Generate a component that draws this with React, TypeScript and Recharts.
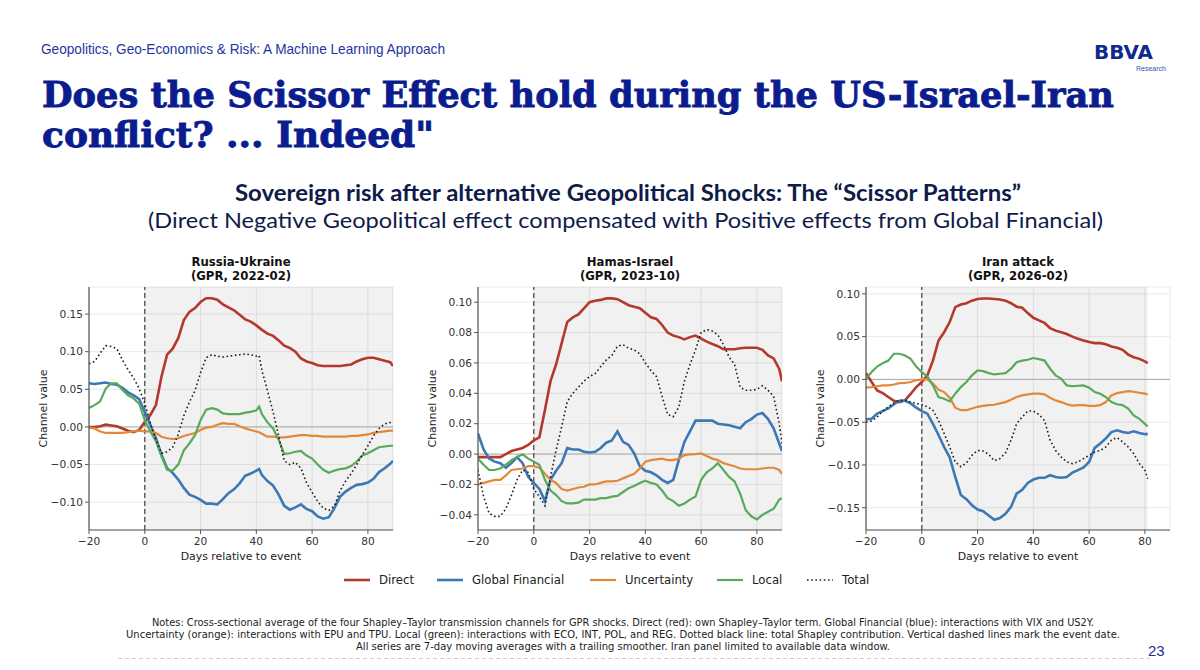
import React from 'react';
import { LineChart, Line, XAxis, YAxis, CartesianGrid, ReferenceArea, ReferenceLine } from 'recharts';

// ---------- categories (days relative to event) ----------
const DAYS_RU = [-20,-18,-16,-14,-12,-10,-8,-6,-4,-2,0,2,4,6,8,10,12,14,16,18,20,22,24,26,28,30,32,34,36,38,40,41,42,44,46,48,50,52,54,56,58,60,62,64,66,68,70,72,74,76,78,80,82,84,86,88,89];
const DAYS_HI = [-20,-18,-16,-14,-12,-10,-8,-6,-4,-2,0,2,4,6,8,10,12,14,16,18,20,22,24,26,28,30,32,34,36,38,40,42,44,46,48,50,52,54,56,58,60,62,64,66,68,70,72,74,76,78,80,82,84,86,88,89];
const DAYS_IR = [-20,-18,-16,-14,-12,-10,-8,-6,-4,-2,0,2,4,6,8,10,12,14,16,18,20,22,24,26,28,30,32,34,36,38,40,42,44,46,48,50,52,54,56,58,60,62,64,66,68,70,72,74,76,78,80,81];

// ---------- Russia-Ukraine ----------
const DIRECT_RU = [0.000,0.000,0.001,0.003,0.002,0.001,-0.002,-0.005,-0.007,-0.004,0.007,0.016,0.029,0.067,0.096,0.104,0.118,0.142,0.153,0.158,0.166,0.171,0.171,0.169,0.163,0.159,0.155,0.149,0.143,0.140,0.135,0.132,0.129,0.124,0.121,0.115,0.108,0.105,0.100,0.091,0.087,0.085,0.082,0.081,0.081,0.081,0.081,0.082,0.083,0.087,0.090,0.092,0.092,0.090,0.088,0.086,0.081];
const GLOBAL_RU = [0.058,0.057,0.058,0.059,0.057,0.056,0.052,0.046,0.042,0.037,0.020,0.003,-0.015,-0.037,-0.055,-0.061,-0.070,-0.081,-0.090,-0.093,-0.097,-0.102,-0.102,-0.103,-0.096,-0.088,-0.083,-0.075,-0.065,-0.062,-0.058,-0.056,-0.064,-0.072,-0.078,-0.090,-0.105,-0.110,-0.107,-0.103,-0.109,-0.112,-0.119,-0.122,-0.120,-0.108,-0.093,-0.086,-0.081,-0.077,-0.076,-0.074,-0.069,-0.060,-0.055,-0.049,-0.045];
const UNCERT_RU = [-0.001,-0.002,-0.006,-0.008,-0.008,-0.008,-0.008,-0.007,-0.006,-0.005,-0.006,-0.006,-0.008,-0.013,-0.015,-0.016,-0.015,-0.012,-0.010,-0.008,-0.004,-0.001,0.000,0.003,0.005,0.004,0.004,0.001,-0.002,-0.004,-0.006,-0.007,-0.009,-0.013,-0.013,-0.014,-0.014,-0.013,-0.012,-0.011,-0.011,-0.012,-0.012,-0.013,-0.013,-0.013,-0.013,-0.013,-0.012,-0.012,-0.011,-0.010,-0.008,-0.007,-0.006,-0.005,-0.005];
const LOCAL_RU = [0.025,0.029,0.034,0.051,0.058,0.058,0.049,0.042,0.038,0.031,0.009,-0.006,-0.019,-0.039,-0.057,-0.058,-0.050,-0.031,-0.022,-0.011,0.009,0.023,0.025,0.023,0.018,0.017,0.017,0.017,0.019,0.020,0.022,0.027,0.017,0.006,-0.002,-0.017,-0.036,-0.035,-0.033,-0.032,-0.038,-0.042,-0.050,-0.057,-0.061,-0.058,-0.056,-0.055,-0.052,-0.046,-0.038,-0.035,-0.031,-0.027,-0.026,-0.025,-0.025];
const TOTAL_RU = [0.084,0.087,0.098,0.108,0.107,0.104,0.089,0.076,0.065,0.051,0.031,0.005,-0.017,-0.035,-0.033,-0.027,-0.010,0.015,0.033,0.048,0.072,0.092,0.096,0.094,0.093,0.094,0.095,0.096,0.097,0.096,0.094,0.095,0.075,0.048,0.020,-0.012,-0.045,-0.050,-0.047,-0.055,-0.074,-0.087,-0.099,-0.108,-0.111,-0.105,-0.085,-0.072,-0.062,-0.050,-0.037,-0.025,-0.012,-0.002,0.004,0.006,0.007];

// ---------- Hamas-Israel ----------
const DIRECT_HI = [-0.002,-0.002,-0.002,-0.002,-0.002,0.000,0.002,0.003,0.004,0.006,0.009,0.011,0.029,0.048,0.059,0.073,0.087,0.090,0.092,0.096,0.100,0.101,0.1015,0.1025,0.1025,0.102,0.100,0.098,0.097,0.096,0.093,0.090,0.089,0.085,0.080,0.078,0.077,0.0755,0.077,0.078,0.076,0.074,0.0725,0.071,0.069,0.069,0.069,0.0697,0.070,0.070,0.070,0.0686,0.065,0.063,0.056,0.048];
const GLOBAL_HI = [0.0136,0.003,-0.003,-0.005,-0.006,-0.009,-0.006,-0.002,-0.006,-0.015,-0.019,-0.023,-0.031,-0.017,-0.011,-0.006,0.004,0.003,0.003,0.0015,0.001,0.0015,0.004,0.0075,0.009,0.015,0.008,0.006,0.0005,-0.008,-0.011,-0.012,-0.014,-0.017,-0.019,-0.017,-0.004,0.008,0.015,0.022,0.022,0.022,0.022,0.020,0.0195,0.019,0.018,0.017,0.021,0.023,0.026,0.027,0.023,0.017,0.007,0.002];
const UNCERT_HI = [-0.020,-0.019,-0.018,-0.017,-0.017,-0.014,-0.0105,-0.010,-0.0095,-0.008,-0.008,-0.009,-0.013,-0.017,-0.019,-0.023,-0.024,-0.023,-0.022,-0.0215,-0.020,-0.020,-0.019,-0.018,-0.018,-0.0176,-0.016,-0.0145,-0.013,-0.0095,-0.005,-0.004,-0.0035,-0.003,-0.004,-0.004,-0.003,-0.0007,-0.0002,0.000,0.0004,-0.0013,-0.003,-0.004,-0.006,-0.007,-0.008,-0.0095,-0.010,-0.010,-0.010,-0.0095,-0.009,-0.009,-0.0105,-0.013];
const LOCAL_HI = [-0.003,-0.007,-0.0105,-0.0105,-0.0095,-0.007,-0.004,-0.002,-0.0002,-0.003,-0.005,-0.007,-0.017,-0.024,-0.027,-0.031,-0.0325,-0.0325,-0.032,-0.030,-0.030,-0.030,-0.029,-0.029,-0.028,-0.0275,-0.025,-0.0225,-0.021,-0.019,-0.0176,-0.019,-0.020,-0.024,-0.029,-0.031,-0.034,-0.0325,-0.030,-0.028,-0.017,-0.012,-0.0095,-0.006,-0.0105,-0.015,-0.018,-0.026,-0.037,-0.041,-0.043,-0.040,-0.038,-0.036,-0.030,-0.029];
const TOTAL_HI = [-0.0105,-0.028,-0.039,-0.041,-0.041,-0.036,-0.027,-0.017,-0.0105,-0.012,-0.023,-0.028,-0.034,-0.015,0.0026,0.018,0.0345,0.040,0.044,0.048,0.051,0.053,0.0576,0.062,0.065,0.071,0.072,0.0697,0.0686,0.066,0.060,0.055,0.051,0.038,0.026,0.0246,0.031,0.048,0.059,0.0686,0.080,0.082,0.081,0.0785,0.072,0.064,0.059,0.044,0.042,0.042,0.0426,0.045,0.042,0.038,0.020,0.007];

// ---------- Iran attack ----------
const DIRECT_IR = [0.0074,-0.003,-0.013,-0.016,-0.0206,-0.025,-0.0265,-0.0245,-0.017,-0.009,-0.003,0.0047,0.022,0.0455,0.055,0.067,0.0845,0.0875,0.089,0.092,0.094,0.0945,0.0945,0.094,0.0934,0.092,0.089,0.085,0.0837,0.0775,0.072,0.069,0.066,0.060,0.057,0.055,0.053,0.050,0.0475,0.0455,0.0436,0.0424,0.0424,0.041,0.0385,0.037,0.0346,0.029,0.026,0.024,0.021,0.019];
const GLOBAL_IR = [-0.0467,-0.046,-0.040,-0.037,-0.034,-0.029,-0.025,-0.025,-0.028,-0.033,-0.037,-0.040,-0.052,-0.065,-0.079,-0.091,-0.114,-0.135,-0.140,-0.147,-0.152,-0.154,-0.159,-0.164,-0.162,-0.157,-0.149,-0.1335,-0.129,-0.121,-0.117,-0.115,-0.115,-0.112,-0.114,-0.115,-0.114,-0.109,-0.106,-0.103,-0.0965,-0.080,-0.075,-0.069,-0.0615,-0.0595,-0.0615,-0.0626,-0.0607,-0.0626,-0.064,-0.064];
const UNCERT_IR = [-0.0097,-0.009,-0.008,-0.007,-0.007,-0.006,-0.0043,-0.004,-0.003,-0.001,0.000,0.000,-0.005,-0.012,-0.0148,-0.0214,-0.033,-0.036,-0.036,-0.034,-0.032,-0.031,-0.030,-0.0296,-0.028,-0.0265,-0.0237,-0.0206,-0.0187,-0.0175,-0.0167,-0.0167,-0.0175,-0.0214,-0.0245,-0.0265,-0.029,-0.0307,-0.030,-0.030,-0.031,-0.031,-0.030,-0.0265,-0.0187,-0.016,-0.0148,-0.0136,-0.0144,-0.0156,-0.0167,-0.0175];
const LOCAL_IR = [0.0008,0.0086,0.015,0.019,0.022,0.030,0.030,0.028,0.024,0.015,0.0086,0.0035,-0.007,-0.0206,-0.0226,-0.0257,-0.0167,-0.009,-0.003,0.0047,0.0105,0.0097,0.0074,0.0058,0.0066,0.0074,0.0125,0.020,0.022,0.023,0.025,0.0237,0.022,0.0125,0.0047,0.0008,-0.007,-0.008,-0.0074,-0.007,-0.0097,-0.0148,-0.0167,-0.0206,-0.0265,-0.029,-0.030,-0.034,-0.042,-0.046,-0.052,-0.055];
const TOTAL_IR = [-0.050,-0.0486,-0.044,-0.037,-0.032,-0.0276,-0.0245,-0.0245,-0.0265,-0.028,-0.0296,-0.032,-0.036,-0.048,-0.063,-0.079,-0.0965,-0.102,-0.0977,-0.0887,-0.083,-0.0837,-0.0875,-0.095,-0.0926,-0.086,-0.071,-0.0518,-0.044,-0.037,-0.037,-0.041,-0.048,-0.071,-0.083,-0.0907,-0.0965,-0.0984,-0.0965,-0.0926,-0.0887,-0.085,-0.083,-0.079,-0.071,-0.068,-0.073,-0.079,-0.0868,-0.0984,-0.106,-0.116];

// ---------- tick labels ----------
const X_TICKS = [-20, 0, 20, 40, 60, 80];
const Y_TICKS_RU = [-0.1, -0.05, 0, 0.05, 0.1, 0.15];
const Y_TICKS_HI = [-0.04, -0.02, 0, 0.02, 0.04, 0.06, 0.08, 0.1];
const Y_TICKS_IR = [-0.15, -0.1, -0.05, 0, 0.05, 0.1];

const SERIES = [
  { key: 'direct', name: 'Direct', color: '#b3392b', width: 2.6, dash: undefined as string | undefined },
  { key: 'global', name: 'Global Financial', color: '#3b78b4', width: 2.6, dash: undefined },
  { key: 'uncert', name: 'Uncertainty', color: '#e3883a', width: 2.2, dash: undefined },
  { key: 'local', name: 'Local', color: '#58a95c', width: 2.2, dash: undefined },
  { key: 'total', name: 'Total', color: '#1e1e1e', width: 1.6, dash: '1.6 2.6' },
];

const PANELS = [
  { title: 'Russia-Ukraine', sub: '(GPR, 2022-02)', days: DAYS_RU, direct: DIRECT_RU, global: GLOBAL_RU, uncert: UNCERT_RU, local: LOCAL_RU, total: TOTAL_RU, yDomain: [-0.137, 0.186], yTicks: Y_TICKS_RU, plotLeft: 89 },
  { title: 'Hamas-Israel', sub: '(GPR, 2023-10)', days: DAYS_HI, direct: DIRECT_HI, global: GLOBAL_HI, uncert: UNCERT_HI, local: LOCAL_HI, total: TOTAL_HI, yDomain: [-0.05, 0.11], yTicks: Y_TICKS_HI, plotLeft: 478 },
  { title: 'Iran attack', sub: '(GPR, 2026-02)', days: DAYS_IR, direct: DIRECT_IR, global: GLOBAL_IR, uncert: UNCERT_IR, local: LOCAL_IR, total: TOTAL_IR, yDomain: [-0.176, 0.108], yTicks: Y_TICKS_IR, plotLeft: 866 },
];

const NOTES = [
  'Notes: Cross-sectional average of the four Shapley\u2013Taylor transmission channels for GPR shocks. Direct (red): own Shapley\u2013Taylor term. Global Financial (blue): interactions with VIX and US2Y.',
  'Uncertainty (orange): interactions with EPU and TPU. Local (green): interactions with ECO, INT, POL, and REG. Dotted black line: total Shapley contribution. Vertical dashed lines mark the event date.',
  'All series are 7-day moving averages with a trailing smoother. Iran panel limited to available data window.',
];

const PLOT_W = 304;
const PLOT_H = 243;
const PLOT_TOP = 287;
const Y_AXIS_W = 60;
const M_TOP = 10;
const M_RIGHT = 8;
const X_AXIS_H = 40;
const X_MAX = 89;

const LEGEND_X = [344, 437, 590, 717, 807];
const NOTE_WIDTHS = [942, 994, 534];

const minus = (s: string) => s.replace('-', '\u2212');
const fmtY = (v: number) => minus(v.toFixed(2));
const fmtX = (v: number) => minus(String(v));

const tickStyle = { fontFamily: 'DejaVu Sans', fontSize: 10.6, fill: '#333' };

function Panel({ p }: { p: typeof PANELS[number] }) {
  const rows = p.days.map((d, i) => ({
    day: d,
    direct: p.direct[i],
    global: p.global[i],
    uncert: p.uncert[i],
    local: p.local[i],
    total: p.total[i],
  }));
  const lastDay = p.days[p.days.length - 1];
  return (
    <div style={{ position: 'absolute', left: p.plotLeft - Y_AXIS_W, top: PLOT_TOP - M_TOP }}>
      <LineChart
        width={Y_AXIS_W + PLOT_W + M_RIGHT}
        height={M_TOP + PLOT_H + X_AXIS_H}
        data={rows}
        margin={{ top: M_TOP, right: M_RIGHT, bottom: 0, left: 0 }}
      >
        <CartesianGrid stroke="#e3e3e3" strokeWidth={0.8} />
        <XAxis
          dataKey="day"
          type="number"
          domain={[-20, X_MAX]}
          ticks={X_TICKS}
          tickFormatter={fmtX}
          allowDataOverflow
          height={X_AXIS_H}
          tick={tickStyle}
          tickSize={4}
          tickMargin={3}
          axisLine={{ stroke: '#555', strokeWidth: 1.2 }}
          tickLine={{ stroke: '#555' }}
        />
        <YAxis
          type="number"
          domain={p.yDomain}
          ticks={p.yTicks}
          tickFormatter={fmtY}
          allowDataOverflow
          width={Y_AXIS_W}
          tick={tickStyle}
          tickSize={4}
          tickMargin={2}
          axisLine={{ stroke: '#555', strokeWidth: 1.2 }}
          tickLine={{ stroke: '#555' }}
        />
        <ReferenceArea x1={0} x2={lastDay} fill="#000" fillOpacity={0.055} stroke="none" />
        <ReferenceLine y={0} stroke="#aaaaaa" strokeWidth={1} />
        <ReferenceLine x={0} stroke="#333" strokeWidth={1.1} strokeDasharray="5 3" />
        {SERIES.map((s) => (
          <Line
            key={s.key}
            dataKey={s.key}
            name={s.name}
            type="linear"
            stroke={s.color}
            strokeWidth={s.width}
            strokeDasharray={s.dash}
            dot={false}
            activeDot={false}
            isAnimationActive={false}
          />
        ))}
      </LineChart>
    </div>
  );
}

export default function App() {
  return (
    <div style={{ position: 'absolute', left: 0, top: 0, width: 1200, height: 670, background: '#fff', overflow: 'hidden' }}>
      <svg width={1200} height={670} style={{ position: 'absolute', left: 0, top: 0 }}>
        <text x={41} y={54} fontFamily="Liberation Sans" fontSize={14.2} fill="#1e35a2" textLength={404} lengthAdjust="spacingAndGlyphs">
          Geopolitics, Geo-Economics &amp; Risk: A Machine Learning Approach
        </text>
        <text x={1094} y={58.5} fontFamily="DejaVu Sans" fontWeight="bold" fontSize={20} fill="#0d2a8c" textLength={59} lengthAdjust="spacingAndGlyphs">
          BBVA
        </text>
        <text x={1136} y={71} fontFamily="Liberation Sans" fontSize={8} fill="#3656a8" textLength={30} lengthAdjust="spacingAndGlyphs">
          Research
        </text>
        <text x={42} y={107} fontFamily="DejaVu Serif" fontWeight="bold" fontSize={36} fill="#0b1d8e" stroke="#0b1d8e" strokeWidth={0.9} textLength={1072} lengthAdjust="spacingAndGlyphs">
          Does the Scissor Effect hold during the US-Israel-Iran
        </text>
        <text x={42} y={147} fontFamily="DejaVu Serif" fontWeight="bold" fontSize={36} fill="#0b1d8e" stroke="#0b1d8e" strokeWidth={0.9} textLength={392} lengthAdjust="spacingAndGlyphs">
          conflict? ... Indeed"
        </text>
        <text x={235} y={201} fontFamily="Lato" fontWeight="bold" fontSize={22} fill="#0f1b48" textLength={786} lengthAdjust="spacingAndGlyphs">
          Sovereign risk after alternative Geopolitical Shocks: The {'\u201C'}Scissor Patterns{'\u201D'}
        </text>
        <text x={148} y={228} fontFamily="Lato" fontSize={22} fill="#0f1b48" textLength={955} lengthAdjust="spacingAndGlyphs">
          (Direct Negative Geopolitical effect compensated with Positive effects from Global Financial)
        </text>

        {PANELS.map((p) => {
          const cx = p.plotLeft + PLOT_W / 2;
          const cy = PLOT_TOP + PLOT_H / 2;
          const lx = p.plotLeft - 46;
          return (
            <g key={p.title}>
              <text x={cx} y={266} textAnchor="middle" fontFamily="DejaVu Sans" fontWeight="bold" fontSize={11.7} fill="#111">{p.title}</text>
              <text x={cx} y={279.5} textAnchor="middle" fontFamily="DejaVu Sans" fontWeight="bold" fontSize={11.7} fill="#111">{p.sub}</text>
              <text x={cx} y={560} textAnchor="middle" fontFamily="DejaVu Sans" fontSize={10.9} fill="#222">Days relative to event</text>
              <text x={lx} y={cy} textAnchor="middle" dominantBaseline="central" transform={`rotate(-90 ${lx} ${cy})`} fontFamily="DejaVu Sans" fontSize={10.9} fill="#222">Channel value</text>
            </g>
          );
        })}

        {SERIES.map((s, i) => (
          <g key={s.key}>
            <line x1={LEGEND_X[i]} x2={LEGEND_X[i] + 26} y1={580} y2={580} stroke={s.color} strokeWidth={s.width} strokeDasharray={s.dash} />
            <text x={LEGEND_X[i] + 35} y={580} dominantBaseline="central" fontFamily="DejaVu Sans" fontSize={11.7} fill="#222">{s.name}</text>
          </g>
        ))}

        {NOTES.map((n, i) => (
          <text key={i} x={623} y={626 + i * 12} textAnchor="middle" fontFamily="DejaVu Sans" fontSize={9.8} fill="#222" textLength={NOTE_WIDTHS[i]} lengthAdjust="spacingAndGlyphs">{n}</text>
        ))}
        <line x1={118} x2={1150} y1={658.5} y2={658.5} stroke="#cfcfcf" strokeWidth={1} strokeDasharray="4 3" />
        <text x={1148} y={656} fontFamily="Liberation Sans" fontSize={15} fill="#1d2f8f">23</text>
      </svg>
      {PANELS.map((p) => (
        <Panel key={p.title} p={p} />
      ))}
    </div>
  );
}
